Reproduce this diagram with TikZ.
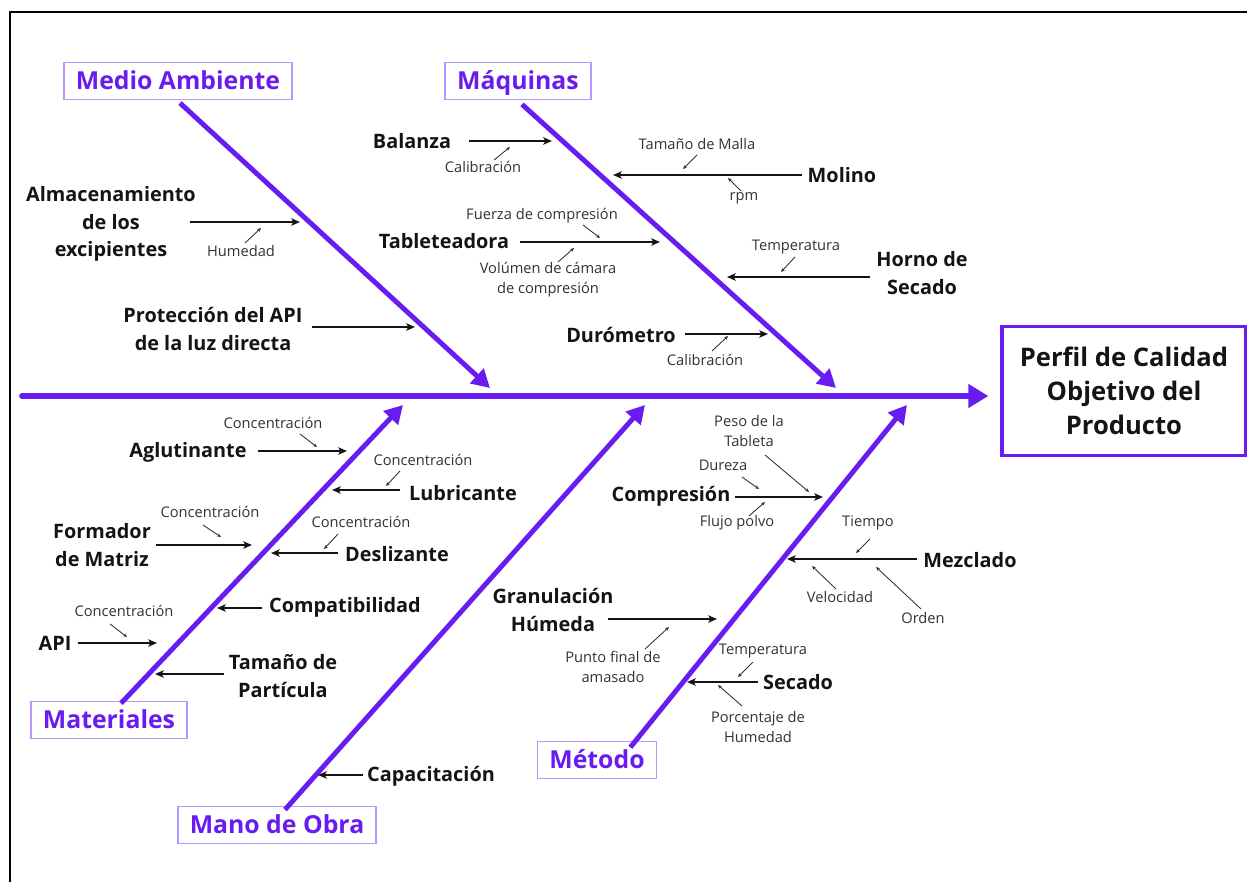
\documentclass[tikz,border=0pt]{standalone}
\usepackage{fontspec}
\setmainfont{Open Sans}
\usetikzlibrary{arrows.meta}
\definecolor{pur}{RGB}{104,28,240}
\definecolor{lpur}{RGB}{184,150,255}
\definecolor{ink}{RGB}{20,20,20}
\definecolor{sink}{RGB}{50,50,50}
\begin{document}
\begin{tikzpicture}[x=0.75pt,y=-0.75pt,
  cat/.style={draw=lpur,line width=1.3pt,text=pur,font=\fontsize{18.6}{22}\selectfont\bfseries,inner xsep=9pt,inner ysep=0pt,text height=16pt,text depth=2.7pt,minimum height=27.75pt},
  headbox/.style={draw=pur,line width=2.3pt,font=\fontsize{19.2}{25.5}\selectfont\bfseries,align=center,minimum width=183pt,minimum height=97pt,text=ink},
  bone/.style={pur,line width=3.7pt,-{Triangle[length=13.5pt,width=14.5pt]}},
  spine/.style={pur,line width=4.4pt,line cap=round,-{Triangle[length=15pt,width=17pt]}},
  sub/.style={ink,line width=1.15pt,-{Stealth[length=6.5pt,width=5.5pt,inset=1.5pt]}},
  ann/.style={sink,line width=0.65pt,-{Stealth[length=3pt,width=2.6pt]}},
  lab/.style={font=\fontsize{14.9}{20.5}\selectfont\bfseries,align=center,inner sep=0pt,text=ink},
  sm/.style={font=\fontsize{11}{15}\selectfont,align=center,inner sep=0pt,text=sink}]
\useasboundingbox (0,0) rectangle (1247,882);
% frame
\coordinate (fr1) at (10,890);
\coordinate (fr2) at (10,12);
\coordinate (fr3) at (1255,12);
\draw[black,line width=1.6pt] (fr1) -- (fr2) -- (fr3);

% head and spine
\node[headbox] (head) at (1124,391) {Perfil de Calidad\\Objetivo del\\Producto};
\coordinate (sp0) at (22,396);
\draw[spine] (sp0) -- ([xshift=-9pt]head.west |- sp0);

% category boxes
\node[cat] (ma) at (178,81) {Medio Ambiente};
\node[cat] (maq) at (518,81) {Máquinas};
\node[cat] (mat) at (109,720) {Materiales};
\node[cat] (mo) at (277,825) {Mano de Obra};
\node[cat] (met) at (597,760) {Método};

\coordinate (maT) at (490,388);
\coordinate (maqT) at (836,388);
\coordinate (matT) at (403,405);
\coordinate (moT) at (645,405);
\coordinate (metT) at (907,405);
\draw[bone] ([xshift=1.5pt,yshift=-2pt]ma.south) -- (maT);
\draw[bone] ([xshift=3pt,yshift=-3pt]maq.south) -- (maqT);
\draw[bone] ([xshift=9pt,yshift=-2pt]mat.north) -- (matT);
\draw[bone] ([xshift=6pt,yshift=-3pt]mo.north) -- (moT);
\draw[bone] ([xshift=25pt,yshift=-5pt]met.north) -- (metT);

% ---------- Medio Ambiente ----------
\node[lab] (alm) at (111,224) {Almacenamiento\\de los\\excipientes};
\coordinate (alm1) at (190,222); \coordinate (alm2) at (300,222);
\draw[sub] (alm1) -- (alm2);
\node[sm] (hum) at (241,251) {Humedad};
\coordinate (hum1) at (245,243); \coordinate (hum2) at (261,228);
\draw[ann] (hum1) -- (hum2);

\node[lab] (pro) at (213,329) {Protección del API\\de la luz directa};
\coordinate (pro1) at (312,327); \coordinate (pro2) at (415,327);
\draw[sub] (pro1) -- (pro2);

% ---------- Máquinas ----------
\node[lab] (bal) at (412,141) {Balanza};
\coordinate (bal1) at (469,141); \coordinate (bal2) at (552,141);
\draw[sub] (bal1) -- (bal2);
\node[sm] (cal1) at (483,167) {Calibración};
\coordinate (cal1a) at (494,160); \coordinate (cal1b) at (510,147);
\draw[ann] (cal1a) -- (cal1b);

\node[lab] (mol) at (842,175) {Molino};
\coordinate (mol1) at (802,175); \coordinate (mol2) at (613,175);
\draw[sub] (mol1) -- (mol2);
\node[sm] (tam) at (697,144) {Tamaño de Malla};
\coordinate (tam1) at (697,155); \coordinate (tam2) at (683,169);
\draw[ann] (tam1) -- (tam2);
\node[sm] (rpm) at (744,198) {rpm};
\coordinate (rpm1) at (741,191); \coordinate (rpm2) at (728,178);
\draw[ann] (rpm1) -- (rpm2);

\node[lab] (tab) at (444,241) {Tableteadora};
\coordinate (tab1) at (520,242); \coordinate (tab2) at (660,242);
\draw[sub] (tab1) -- (tab2);
\node[sm] (fue) at (542,216) {Fuerza de compresión};
\coordinate (fue1) at (583,225); \coordinate (fue2) at (600,238);
\draw[ann] (fue1) -- (fue2);
\node[sm] (vol) at (548,280) {Volúmen de cámara\\de compresión};
\coordinate (vol1) at (558,262); \coordinate (vol2) at (574,248);
\draw[ann] (vol1) -- (vol2);

\node[lab] (hor) at (922,273) {Horno de\\Secado};
\coordinate (hor1) at (870,277); \coordinate (hor2) at (727,277);
\draw[sub] (hor1) -- (hor2);
\node[sm] (tem1) at (796,247) {Temperatura};
\coordinate (tem1a) at (795,257); \coordinate (tem1b) at (781,272);
\draw[ann] (tem1a) -- (tem1b);

\node[lab] (dur) at (621,335) {Durómetro};
\coordinate (dur1) at (685,334); \coordinate (dur2) at (768,334);
\draw[sub] (dur1) -- (dur2);
\node[sm] (cal2) at (705,360) {Calibración};
\coordinate (cal2a) at (712,351); \coordinate (cal2b) at (728,336);
\draw[ann] (cal2a) -- (cal2b);

% ---------- Materiales ----------
\node[lab] (agl) at (188,452) {Aglutinante};
\coordinate (agl1) at (258,451); \coordinate (agl2) at (347,451);
\draw[sub] (agl1) -- (agl2);
\node[sm] (co1) at (273,423) {Concentración};
\coordinate (co1a) at (300,434); \coordinate (co1b) at (317,447);
\draw[ann] (co1a) -- (co1b);

\node[lab] (lub) at (463,493) {Lubricante};
\coordinate (lub1) at (400,490); \coordinate (lub2) at (332,490);
\draw[sub] (lub1) -- (lub2);
\node[sm] (co2) at (423,460) {Concentración};
\coordinate (co2a) at (400,471); \coordinate (co2b) at (386,486);
\draw[ann] (co2a) -- (co2b);

\node[lab] (for) at (102,545) {Formador\\de Matriz};
\coordinate (for1) at (156,545); \coordinate (for2) at (252,545);
\draw[sub] (for1) -- (for2);
\node[sm] (co3) at (210,512) {Concentración};
\coordinate (co3a) at (203,525); \coordinate (co3b) at (221,537);
\draw[ann] (co3a) -- (co3b);

\node[lab] (des) at (397,554) {Deslizante};
\coordinate (des1) at (338,553); \coordinate (des2) at (271,553);
\draw[sub] (des1) -- (des2);
\node[sm] (co4) at (361,522) {Concentración};
\coordinate (co4a) at (338,534); \coordinate (co4b) at (324,549);
\draw[ann] (co4a) -- (co4b);

\node[lab] (com) at (345,607) {Compatibilidad};
\coordinate (com1) at (262,608); \coordinate (com2) at (217,608);
\draw[sub] (com1) -- (com2);

\node[lab] (api) at (55,643) {API};
\coordinate (api1) at (78,643); \coordinate (api2) at (157,643);
\draw[sub] (api1) -- (api2);
\node[sm] (co5) at (124,611) {Concentración};
\coordinate (co5a) at (110,624); \coordinate (co5b) at (127,637);
\draw[ann] (co5a) -- (co5b);

\node[lab] (tpa) at (283,676) {Tamaño de\\Partícula};
\coordinate (tpa1) at (224,674); \coordinate (tpa2) at (155,674);
\draw[sub] (tpa1) -- (tpa2);

% ---------- Mano de Obra ----------
\node[lab] (cap) at (431,776) {Capacitación};
\coordinate (cap1) at (363,775); \coordinate (cap2) at (318,775);
\draw[sub] (cap1) -- (cap2);

% ---------- Método ----------
\node[lab] (cmp) at (671,496) {Compresión};
\coordinate (cmp1) at (735,497); \coordinate (cmp2) at (823,497);
\draw[sub] (cmp1) -- (cmp2);
\node[sm] (pes) at (749,431) {Peso de la\\Tableta};
\coordinate (pes1) at (765,455); \coordinate (pes2) at (809,492);
\draw[ann] (pes1) -- (pes2);
\node[sm] (dure) at (723,465) {Dureza};
\coordinate (dure1) at (742,477); \coordinate (dure2) at (759,489);
\draw[ann] (dure1) -- (dure2);
\node[sm] (flu) at (737,523) {Flujo polvo};
\coordinate (flu1) at (749,516); \coordinate (flu2) at (765,502);
\draw[ann] (flu1) -- (flu2);

\node[lab] (mez) at (970,560) {Mezclado};
\coordinate (mez1) at (917,559); \coordinate (mez2) at (787,559);
\draw[sub] (mez1) -- (mez2);
\node[sm] (tie) at (868,523) {Tiempo};
\coordinate (tie1) at (870,539); \coordinate (tie2) at (856,553);
\draw[ann] (tie1) -- (tie2);
\node[sm] (vel) at (840,597) {Velocidad};
\coordinate (vel1) at (836,589); \coordinate (vel2) at (812,566);
\draw[ann] (vel1) -- (vel2);
\node[sm] (ord) at (923,618) {Orden};
\coordinate (ord1) at (921,609); \coordinate (ord2) at (876,567);
\draw[ann] (ord1) -- (ord2);

\node[lab] (gra) at (553,610) {Granulación\\Húmeda};
\coordinate (gra1) at (608,619); \coordinate (gra2) at (717,619);
\draw[sub] (gra1) -- (gra2);
\node[sm] (pun) at (613,667) {Punto final de\\amasado};
\coordinate (pun1) at (645,649); \coordinate (pun2) at (669,627);
\draw[ann] (pun1) -- (pun2);

\node[lab] (sec) at (798,682) {Secado};
\coordinate (sec1) at (758,682); \coordinate (sec2) at (687,682);
\draw[sub] (sec1) -- (sec2);
\node[sm] (tem2) at (763,651) {Temperatura};
\coordinate (tem2a) at (753,662); \coordinate (tem2b) at (738,677);
\draw[ann] (tem2a) -- (tem2b);
\node[sm] (por) at (758,727) {Porcentaje de\\Humedad};
\coordinate (por1) at (742,706); \coordinate (por2) at (718,685);
\draw[ann] (por1) -- (por2);
\end{tikzpicture}
\end{document}
